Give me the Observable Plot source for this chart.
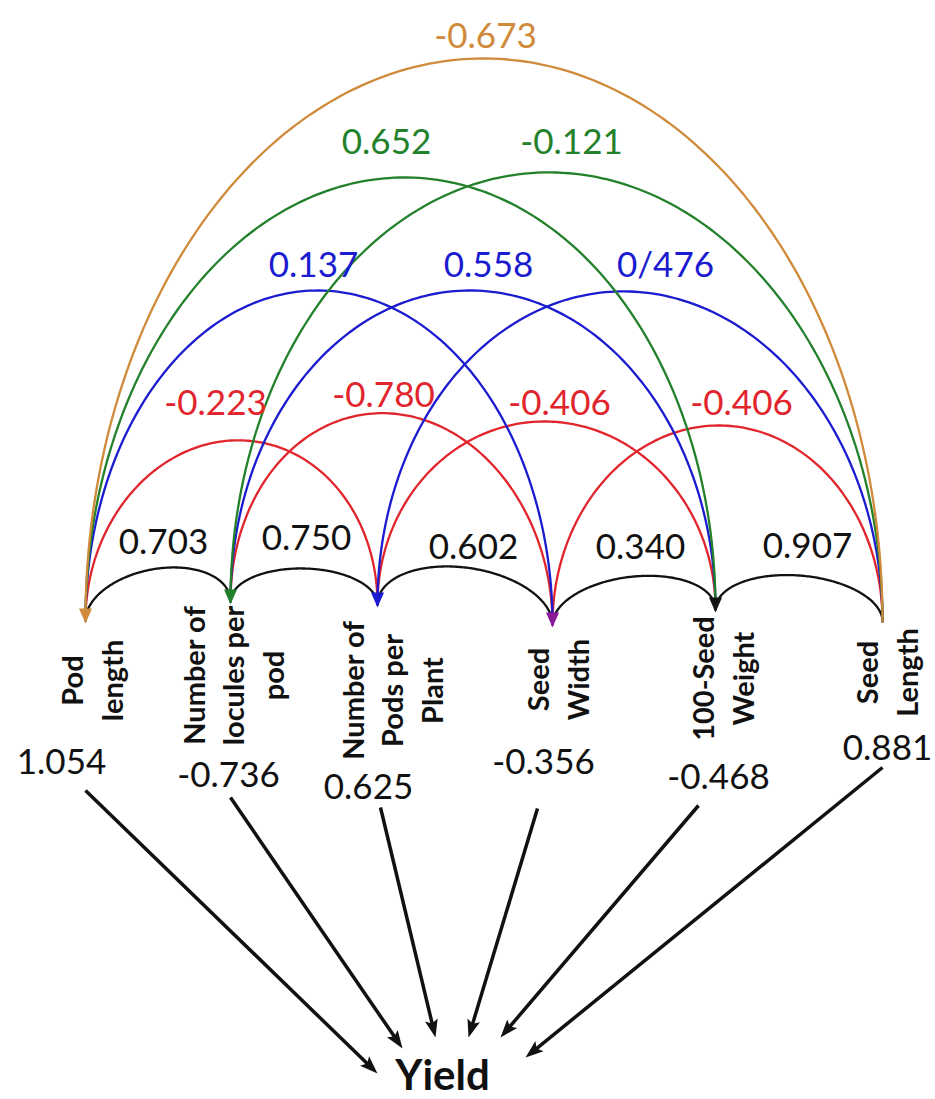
<!DOCTYPE html>
<html>
<head>
<meta charset="utf-8">
<script src="https://cdn.jsdelivr.net/npm/d3@7"></script>
<script src="https://cdn.jsdelivr.net/npm/@observablehq/plot@0.6"></script>
<style>
  body { margin: 0; background: #fff; }
  #chart svg { display: block; }
</style>
</head>
<body>
<div id="chart"></div>
<script>
// ---- Data -------------------------------------------------------------
// Traits in the path diagram, left to right
const traits = [
  "Pod\nlength",
  "Number of\nlocules per\npod",
  "Number of\nPods per\nPlant",
  "Seed\nWidth",
  "100-Seed\nWeight",
  "Seed\nLength"
];
// Direct effect of each trait on yield
const directEffects = ["1.054", "-0.736", "0.625", "-0.356", "-0.468", "0.881"];
// Correlations between pairs of traits (index of first and second trait)
const corrFrom   = [0, 1, 2, 3, 4,   0, 1, 2, 3,   0, 1, 2,   0, 1,   0];
const corrTo     = [1, 2, 3, 4, 5,   2, 3, 4, 5,   3, 4, 5,   4, 5,   5];
const corrLabels = ["0.703", "0.750", "0.602", "0.340", "0.907",
                    "-0.223", "-0.780", "-0.406", "-0.406",
                    "0.137", "0.558", "0/476",
                    "0.652", "-0.121",
                    "-0.673"];

// ---- Layout (pixels) --------------------------------------------------
const nodeX = [85, 230, 377, 552, 715, 882];
const nodeY = [620, 601, 604, 624, 609, 621];
const arcTopY = [568, 568, 567, 576, 575,  440, 413, 421, 425,  290, 290, 291,  177, 172,  58];
const corrLabelX = [163, 306, 473, 640, 807,  215, 383, 559, 741,  313, 488, 665,  386, 571,  485];
const corrLabelY = [542, 538, 547, 547, 546,  403, 395, 403, 403,  265, 265, 265,  142, 142,  36];
const traitLabelX = [90, 231, 390, 556, 721, 885];
const traitLabelY = [680, 675, 690, 679, 678, 672];
const effectX = [61, 228, 368, 543, 718, 887];
const effectY = [762, 775, 787, 762, 777, 748];
const arrowX1 = [85, 230, 380, 537, 698, 882];
const arrowY1 = [790, 797, 807, 808, 805, 767];
const arrowX2 = [377, 402, 435, 468, 500, 525];
const arrowY2 = [1073, 1048, 1037, 1037, 1037, 1057];
// Colour by how many traits apart the pair is
const spanColor = {1: "#111111", 2: "#e1252d", 3: "#1b1bd0", 4: "#23812b", 5: "#cf8a3a"};
// Arrowheads where the curves meet each trait
const headColor = ["#cf8a3a", "#23812b", "#1b1bd0", "#8a1a9a", "#111111", null];

const FONT = "Lato, 'Open Sans', sans-serif";

// Filled arrowhead; the tip sits on the anchor point and points "up"
const arrowHead = (len, half, notch) => ({
  draw(context) {
    context.moveTo(0, 0);
    context.lineTo(-half, len);
    context.lineTo(0, len * notch);
    context.lineTo(half, len);
    context.closePath();
  }
});

// ---- Curves between correlated traits (elliptical arches) -------------
const arcPoints = [];
corrFrom.forEach((i, k) => {
  const j = corrTo[k];
  const x0 = nodeX[i], x1 = nodeX[j], y0 = nodeY[i], y1 = nodeY[j];
  const cx = (x0 + x1) / 2, a = (x1 - x0) / 2;
  const h = (y0 + y1) / 2 - arcTopY[k];
  const n = 160;
  for (let s = 0; s <= n; s++) {
    const t = Math.PI * s / n;
    const u = -Math.cos(t);
    arcPoints.push({
      arc: k,
      span: j - i,
      x: cx + a * u,
      y: y0 + (y1 - y0) * (u + 1) / 2 - h * Math.sin(t)
    });
  }
});

const corrTable = corrLabels.map((label, k) => ({
  label, span: corrTo[k] - corrFrom[k], x: corrLabelX[k], y: corrLabelY[k]
}));
const traitTable = traits.map((name, i) => ({name, x: traitLabelX[i], y: traitLabelY[i]}));
const effectTable = directEffects.map((v, i) => {
  const x1 = arrowX1[i], y1 = arrowY1[i], x2 = arrowX2[i], y2 = arrowY2[i];
  const len = Math.hypot(x2 - x1, y2 - y1);
  return {
    v, x: effectX[i], y: effectY[i], x1, y1, x2, y2,
    // stop the shaft inside the arrowhead
    xs: x2 - (x2 - x1) / len * 9, ys: y2 - (y2 - y1) / len * 9,
    angle: Math.atan2(x2 - x1, -(y2 - y1)) * 180 / Math.PI
  };
});
const heads = nodeX.map((x, i) => ({x, y: nodeY[i] + 3, fill: headColor[i]})).filter(d => d.fill);

const chart = Plot.plot({
  width: 935,
  height: 1099,
  margin: 0,
  x: {type: "identity", axis: null},
  y: {type: "identity", axis: null},
  style: {background: "#fff"},
  marks: [
    Plot.line(arcPoints, {
      x: "x", y: "y", z: "arc",
      stroke: d => spanColor[d.span],
      strokeWidth: 2.3,
      curve: "linear"
    }),
    Plot.dot(heads, {
      x: "x", y: "y", symbol: arrowHead(15, 6.5, 1), rotate: 180,
      fill: "fill", stroke: "none"
    }),
    Plot.text(corrTable, {
      x: "x", y: "y", text: "label",
      fill: d => spanColor[d.span],
      fontSize: 35, fontFamily: FONT
    }),
    Plot.text(traitTable, {
      x: "x", y: "y", text: "name",
      rotate: -90, lineHeight: 1.36,
      fontSize: 29, fontWeight: "bold", fontFamily: FONT, fill: "#111"
    }),
    Plot.text(effectTable, {
      x: "x", y: "y", text: "v",
      fontSize: 35, fontFamily: FONT, fill: "#111"
    }),
    Plot.link(effectTable, {
      x1: "x1", y1: "y1", x2: "xs", y2: "ys",
      stroke: "#111", strokeWidth: 3.5
    }),
    Plot.dot(effectTable, {
      x: "x2", y: "y2", rotate: "angle", symbol: arrowHead(18, 6.5, 0.8),
      fill: "#111", stroke: "none"
    }),
    Plot.text(["Yield"], {
      x: () => 442, y: () => 1089, text: d => d,
      lineAnchor: "bottom",
      fontSize: 42, fontWeight: "bold", fontFamily: FONT, fill: "#111"
    })
  ]
});

document.getElementById("chart").appendChild(chart);
</script>
</body>
</html>
